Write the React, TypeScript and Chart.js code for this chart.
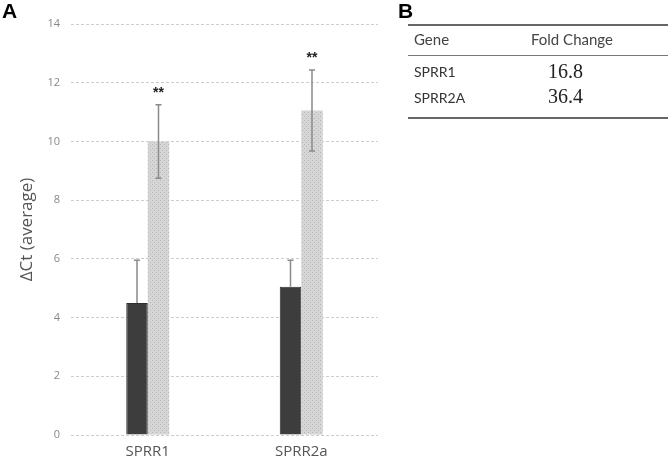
import React, { useEffect, useRef } from "react";
import { Chart, registerables } from "chart.js";

Chart.register(...registerables);

const categories = ["SPRR1", "SPRR2a"];
const controlValues = [4.5, 5.05];
const controlErrUp = [1.45, 0.9];
const treatedValues = [10.0, 11.05];
const treatedErr = [1.25, 1.38];
const significance = ["**", "**"];
const yTicks = [0, 2, 4, 6, 8, 10, 12, 14];

const tableGenes = ["SPRR1", "SPRR2A"];
const tableFold = ["16.8", "36.4"];

function makePattern(): CanvasPattern | string {
  const c = document.createElement("canvas");
  c.width = 4;
  c.height = 4;
  const g = c.getContext("2d");
  if (!g) return "#d3d3d3";
  g.fillStyle = "#d6d6d6";
  g.fillRect(0, 0, 4, 4);
  g.fillStyle = "#b8b8b8";
  g.fillRect(0, 0, 1, 1);
  g.fillRect(2, 2, 1, 1);
  const p = g.createPattern(c, "repeat");
  return p || "#d3d3d3";
}

const errorBarPlugin = {
  id: "errorBars",
  afterDatasetsDraw(chart: any) {
    const ctx = chart.ctx;
    const y = chart.scales.y;
    const errs = [
      { up: controlErrUp, down: controlErrUp.map(() => 0), vals: controlValues },
      { up: treatedErr, down: treatedErr, vals: treatedValues },
    ];
    ctx.save();
    ctx.strokeStyle = "#8a8a8a";
    ctx.lineWidth = 1.5;
    errs.forEach((e, di) => {
      const meta = chart.getDatasetMeta(di);
      meta.data.forEach((bar: any, j: number) => {
        const x = bar.x;
        const top = y.getPixelForValue(e.vals[j] + e.up[j]);
        const bot = y.getPixelForValue(e.vals[j] - e.down[j]);
        ctx.beginPath();
        ctx.moveTo(x, top);
        ctx.lineTo(x, bot);
        ctx.moveTo(x - 3, top);
        ctx.lineTo(x + 3, top);
        if (e.down[j] > 0) {
          ctx.moveTo(x - 3, bot);
          ctx.lineTo(x + 3, bot);
        }
        ctx.stroke();
        if (di === 1) {
          ctx.fillStyle = "#222";
          ctx.font = "bold 14px 'Liberation Sans', Arial, sans-serif";
          ctx.textAlign = "center";
          ctx.textBaseline = "middle";
          ctx.fillText(significance[j], x, top - 12);
        }
      });
    });
    ctx.restore();
  },
};

export default function App() {
  const ref = useRef<HTMLCanvasElement>(null);
  useEffect(() => {
    if (!ref.current) return;
    const chart = new Chart(ref.current, {
      type: "bar",
      data: {
        labels: categories,
        datasets: [
          {
            label: "Control",
            data: controlValues,
            backgroundColor: "#3d3d3d",
            borderColor: "#2e2e2e",
            borderWidth: 1,
            categoryPercentage: 0.28,
            barPercentage: 1,
          },
          {
            label: "Treated",
            data: treatedValues,
            backgroundColor: makePattern() as any,
            borderWidth: 0,
            categoryPercentage: 0.28,
            barPercentage: 1,
          },
        ],
      },
      options: {
        responsive: false,
        animation: false,
        layout: { padding: { top: 24, right: 22, left: 0, bottom: 0 } },
        plugins: { legend: { display: false }, tooltip: { enabled: false } },
        scales: {
          x: {
            grid: { display: false, drawTicks: false },
            border: { display: false },
            ticks: {
              color: "#555",
              font: { family: "'Open Sans', sans-serif", size: 15 },
              padding: 8,
            },
            afterFit: (s: any) => {
              s.height = 35;
            },
          },
          y: {
            min: 0,
            max: 14,
            afterBuildTicks: (s: any) => {
              s.ticks = yTicks.map((v) => ({ value: v }));
            },
            grid: { color: "#cdcdcd", drawTicks: false, lineWidth: 1 },
            border: { display: false, dash: [3, 2] },
            ticks: {
              color: "#888",
              font: { family: "'Open Sans', sans-serif", size: 11 },
              padding: 11,
            },
            title: {
              display: true,
              text: "ΔCt (average)",
              color: "#555",
              font: { family: "'Open Sans', sans-serif", size: 17 },
              padding: { top: 17, bottom: 0 },
            },
            afterFit: (s: any) => {
              s.width = 71;
            },
          },
        },
      },
      plugins: [errorBarPlugin],
    });
    return () => chart.destroy();
  }, []);

  const sans = "Lato, 'Open Sans', sans-serif";
  return (
    <div
      style={{
        position: "fixed",
        left: 0,
        top: 0,
        width: 670,
        height: 470,
        background: "#fff",
        overflow: "hidden",
      }}
    >
      <canvas
        ref={ref}
        width={400}
        height={470}
        style={{ position: "absolute", left: 0, top: 0 }}
      />
      <div
        style={{
          position: "absolute",
          left: 2,
          top: -1,
          font: "bold 21px 'Liberation Sans', Arial, sans-serif",
          color: "#000",
        }}
      >
        A
      </div>
      <div
        style={{
          position: "absolute",
          left: 398,
          top: -1,
          font: "bold 21px 'Liberation Sans', Arial, sans-serif",
          color: "#000",
        }}
      >
        B
      </div>
      <div style={{ position: "absolute", left: 408, top: 24, width: 260, height: 2, background: "#666" }} />
      <div style={{ position: "absolute", left: 408, top: 55, width: 260, height: 1, background: "#777" }} />
      <div style={{ position: "absolute", left: 408, top: 117, width: 260, height: 2, background: "#666" }} />
      <div style={{ position: "absolute", left: 414, top: 30, font: `15px ${sans}`, color: "#444" }}>Gene</div>
      <div style={{ position: "absolute", left: 531, top: 30, font: `15px ${sans}`, color: "#444" }}>Fold Change</div>
      {tableGenes.map((g, i) => (
        <React.Fragment key={g}>
          <div
            style={{
              position: "absolute",
              left: 414,
              top: 63 + i * 26,
              font: `14px ${sans}`,
              color: "#333",
            }}
          >
            {g}
          </div>
          <div
            style={{
              position: "absolute",
              left: 548,
              top: 60 + i * 25,
              font: "20px 'Liberation Serif', 'Times New Roman', serif",
              color: "#222",
            }}
          >
            {tableFold[i]}
          </div>
        </React.Fragment>
      ))}
    </div>
  );
}
